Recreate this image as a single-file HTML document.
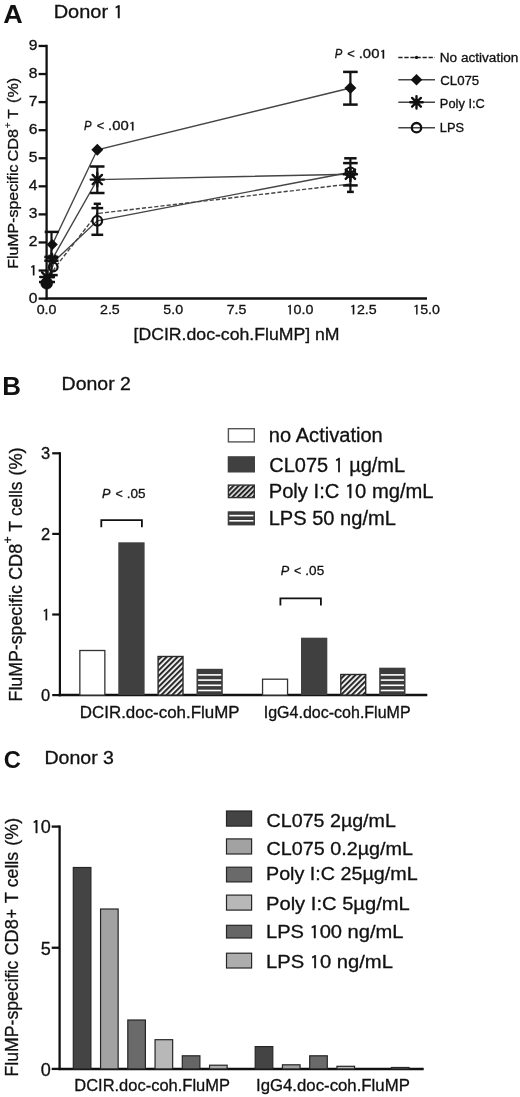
<!DOCTYPE html>
<html><head><meta charset="utf-8"><title>Figure</title>
<style>html,body{margin:0;padding:0;background:#fff;}svg{display:block;}
text{font-family:"Liberation Sans",Arial,sans-serif;stroke:#111;stroke-width:0.3px;}
text[font-weight]{stroke:none;}
.one{font-family:IPAGothic,"Liberation Sans",sans-serif;baseline-shift:-0.055em;}</style></head><body>
<svg width="520" height="1097" viewBox="0 0 520 1097">
<rect width="520" height="1097" fill="#fff"/>

<text x="3.39" y="23.00" font-size="26.00" font-weight="bold" textLength="19.48" lengthAdjust="spacingAndGlyphs" fill="#111">A</text>
<text x="53.70" y="18.00" font-size="18.20" textLength="69.92" lengthAdjust="spacingAndGlyphs" fill="#111">Donor <tspan class="one">1</tspan></text>
<line x1="46.60" y1="44.80" x2="46.60" y2="299.80" stroke="#111" stroke-width="2.3"/>
<line x1="45.50" y1="298.60" x2="427.00" y2="298.60" stroke="#111" stroke-width="2.5"/>
<line x1="38.60" y1="298.60" x2="46.60" y2="298.60" stroke="#111" stroke-width="2.3"/>
<text x="28.71" y="302.60" font-size="14.20" textLength="8.69" lengthAdjust="spacingAndGlyphs" fill="#111">0</text>
<line x1="38.60" y1="270.53" x2="46.60" y2="270.53" stroke="#111" stroke-width="2.3"/>
<text x="29.59" y="274.53" font-size="14.20" textLength="7.81" lengthAdjust="spacingAndGlyphs" fill="#111"><tspan class="one">1</tspan></text>
<line x1="38.60" y1="242.46" x2="46.60" y2="242.46" stroke="#111" stroke-width="2.3"/>
<text x="28.71" y="246.46" font-size="14.20" textLength="8.69" lengthAdjust="spacingAndGlyphs" fill="#111">2</text>
<line x1="38.60" y1="214.39" x2="46.60" y2="214.39" stroke="#111" stroke-width="2.3"/>
<text x="28.71" y="218.39" font-size="14.20" textLength="8.69" lengthAdjust="spacingAndGlyphs" fill="#111">3</text>
<line x1="38.60" y1="186.32" x2="46.60" y2="186.32" stroke="#111" stroke-width="2.3"/>
<text x="28.71" y="190.32" font-size="14.20" textLength="8.69" lengthAdjust="spacingAndGlyphs" fill="#111">4</text>
<line x1="38.60" y1="158.25" x2="46.60" y2="158.25" stroke="#111" stroke-width="2.3"/>
<text x="28.71" y="162.25" font-size="14.20" textLength="8.69" lengthAdjust="spacingAndGlyphs" fill="#111">5</text>
<line x1="38.60" y1="130.18" x2="46.60" y2="130.18" stroke="#111" stroke-width="2.3"/>
<text x="28.71" y="134.18" font-size="14.20" textLength="8.69" lengthAdjust="spacingAndGlyphs" fill="#111">6</text>
<line x1="38.60" y1="102.11" x2="46.60" y2="102.11" stroke="#111" stroke-width="2.3"/>
<text x="28.71" y="106.11" font-size="14.20" textLength="8.69" lengthAdjust="spacingAndGlyphs" fill="#111">7</text>
<line x1="38.60" y1="74.04" x2="46.60" y2="74.04" stroke="#111" stroke-width="2.3"/>
<text x="28.71" y="78.04" font-size="14.20" textLength="8.69" lengthAdjust="spacingAndGlyphs" fill="#111">8</text>
<line x1="38.60" y1="45.97" x2="46.60" y2="45.97" stroke="#111" stroke-width="2.3"/>
<text x="28.71" y="49.97" font-size="14.20" textLength="8.69" lengthAdjust="spacingAndGlyphs" fill="#111">9</text>
<text x="36.71" y="313.80" font-size="13.30" textLength="19.78" lengthAdjust="spacingAndGlyphs" fill="#111">0.0</text>
<text x="100.03" y="313.80" font-size="13.30" textLength="19.78" lengthAdjust="spacingAndGlyphs" fill="#111">2.5</text>
<text x="163.36" y="313.80" font-size="13.30" textLength="19.78" lengthAdjust="spacingAndGlyphs" fill="#111">5.0</text>
<text x="226.68" y="313.80" font-size="13.30" textLength="19.78" lengthAdjust="spacingAndGlyphs" fill="#111">7.5</text>
<text x="286.45" y="313.80" font-size="13.30" textLength="26.90" lengthAdjust="spacingAndGlyphs" fill="#111"><tspan class="one">1</tspan>0.0</text>
<text x="349.78" y="313.80" font-size="13.30" textLength="26.90" lengthAdjust="spacingAndGlyphs" fill="#111"><tspan class="one">1</tspan>2.5</text>
<text x="413.10" y="313.80" font-size="13.30" textLength="26.90" lengthAdjust="spacingAndGlyphs" fill="#111"><tspan class="one">1</tspan>5.0</text>
<text x="133.56" y="339.60" font-size="16.30" textLength="206.04" lengthAdjust="spacingAndGlyphs" fill="#111">[DCIR.doc-coh.FluMP] nM</text>
<text transform="rotate(-90)" x="-268.77" y="17.60" font-size="15.50" textLength="104.30" lengthAdjust="spacingAndGlyphs" fill="#111">FluMP-specific</text>
<text transform="rotate(-90)" x="-161.51" y="17.60" font-size="15.50" textLength="32.58" lengthAdjust="spacingAndGlyphs" fill="#111">CD8</text>
<text transform="rotate(-90)" x="-118.71" y="17.60" font-size="15.50" textLength="9.54" lengthAdjust="spacingAndGlyphs" fill="#111">T</text>
<text transform="rotate(-90)" x="-102.97" y="17.60" font-size="15.50" textLength="25.23" lengthAdjust="spacingAndGlyphs" fill="#111">(%)</text>
<text transform="rotate(-90)" x="-127.97" y="11.13" font-size="9.18" textLength="5.48" lengthAdjust="spacingAndGlyphs" fill="#111">+</text>
<path d="M46.70 281.00L52.20 244.60L97.30 149.80L350.40 88.00" stroke="#454545" stroke-width="1.4" fill="none"/>
<path d="M46.70 277.00L52.60 258.50L97.30 179.60L350.40 174.30" stroke="#454545" stroke-width="1.4" fill="none"/>
<path d="M46.70 283.00L54.50 261.00L97.30 220.80L350.40 172.30" stroke="#454545" stroke-width="1.4" fill="none"/>
<path d="M46.70 282.00L55.50 267.00L97.30 213.50L350.40 184.00" stroke="#454545" stroke-width="1.4" fill="none" stroke-dasharray="4.2,2.0"/>
<line x1="350.40" y1="71.90" x2="350.40" y2="104.60" stroke="#111" stroke-width="2.2"/>
<line x1="343.10" y1="71.90" x2="357.70" y2="71.90" stroke="#111" stroke-width="2.5"/>
<line x1="343.10" y1="104.60" x2="357.70" y2="104.60" stroke="#111" stroke-width="2.5"/>
<path d="M350.40 82.00L356.40 88.00L350.40 94.00L344.40 88.00Z" fill="#111"/>
<line x1="350.40" y1="158.30" x2="350.40" y2="191.90" stroke="#111" stroke-width="2.2"/>
<line x1="344.20" y1="158.30" x2="356.60" y2="158.30" stroke="#111" stroke-width="2.5"/>
<line x1="343.10" y1="163.10" x2="357.70" y2="163.10" stroke="#111" stroke-width="2.5"/>
<line x1="343.10" y1="185.40" x2="357.70" y2="185.40" stroke="#111" stroke-width="2.5"/>
<line x1="347.00" y1="191.90" x2="353.80" y2="191.90" stroke="#111" stroke-width="2.5"/>
<path d="M343.80 174.30L357.00 174.30M345.73 169.63L355.07 178.97M350.40 167.70L350.40 180.90M355.07 169.63L345.73 178.97" stroke="#111" stroke-width="2.4" stroke-linecap="round" fill="none"/>
<circle cx="350.40" cy="172.30" r="4.80" stroke="#111" stroke-width="2.2" fill="none"/>
<path d="M97.30 143.80L103.30 149.80L97.30 155.80L91.30 149.80Z" fill="#111"/>
<line x1="97.30" y1="166.50" x2="97.30" y2="193.00" stroke="#111" stroke-width="2.2"/>
<line x1="90.10" y1="166.50" x2="104.50" y2="166.50" stroke="#111" stroke-width="2.5"/>
<line x1="90.10" y1="193.00" x2="104.50" y2="193.00" stroke="#111" stroke-width="2.5"/>
<path d="M90.70 179.60L103.90 179.60M92.63 174.93L101.97 184.27M97.30 173.00L97.30 186.20M101.97 174.93L92.63 184.27" stroke="#111" stroke-width="2.4" stroke-linecap="round" fill="none"/>
<line x1="97.30" y1="203.80" x2="97.30" y2="234.80" stroke="#111" stroke-width="2.2"/>
<line x1="93.70" y1="203.80" x2="100.90" y2="203.80" stroke="#111" stroke-width="2.5"/>
<line x1="91.40" y1="208.10" x2="103.20" y2="208.10" stroke="#111" stroke-width="2.5"/>
<line x1="91.40" y1="234.80" x2="103.20" y2="234.80" stroke="#111" stroke-width="2.5"/>
<circle cx="97.30" cy="220.80" r="4.80" stroke="#111" stroke-width="2.2" fill="none"/>
<circle cx="97.3" cy="213.5" r="1.3" fill="#111"/>
<line x1="51.50" y1="231.90" x2="51.50" y2="276.00" stroke="#111" stroke-width="2.2"/>
<line x1="44.70" y1="231.90" x2="58.70" y2="231.90" stroke="#111" stroke-width="2.5"/>
<path d="M52.20 239.00L57.80 244.60L52.20 250.20L46.60 244.60Z" fill="#111"/>
<line x1="44.30" y1="256.90" x2="58.50" y2="256.90" stroke="#111" stroke-width="2.5"/>
<line x1="44.30" y1="260.70" x2="58.50" y2="260.70" stroke="#111" stroke-width="2.5"/>
<line x1="45.30" y1="275.10" x2="57.70" y2="275.10" stroke="#111" stroke-width="2.5"/>
<path d="M47.80 258.60L57.00 258.60M49.15 255.35L55.65 261.85M52.40 254.00L52.40 263.20M55.65 255.35L49.15 261.85" stroke="#111" stroke-width="1.8" stroke-linecap="round" fill="none"/>
<circle cx="53.30" cy="267.00" r="4.30" stroke="#111" stroke-width="2.2" fill="none"/>
<line x1="47.00" y1="277.10" x2="55.00" y2="277.10" stroke="#111" stroke-width="2.5"/>
<line x1="39.00" y1="282.00" x2="55.00" y2="282.00" stroke="#111" stroke-width="2.5"/>
<path d="M40.10 277.00L53.30 277.00M42.03 272.33L51.37 281.67M46.70 270.40L46.70 283.60M51.37 272.33L42.03 281.67" stroke="#111" stroke-width="2.3" stroke-linecap="round" fill="none"/>
<circle cx="46.70" cy="283.20" r="6.00" stroke="#111" stroke-width="0.5" fill="#111"/>
<text x="84.06" y="129.60" font-size="12.00" font-style="italic" textLength="7.52" lengthAdjust="spacingAndGlyphs" fill="#111">P</text>
<text x="96.66" y="129.60" font-size="12.00" textLength="7.51" lengthAdjust="spacingAndGlyphs" fill="#111">&lt;</text>
<text x="108.06" y="129.60" font-size="12.00" textLength="28.06" lengthAdjust="spacingAndGlyphs" fill="#111">.00<tspan class="one">1</tspan></text>
<text x="334.76" y="57.80" font-size="12.00" font-style="italic" textLength="7.52" lengthAdjust="spacingAndGlyphs" fill="#111">P</text>
<text x="347.36" y="57.80" font-size="12.00" textLength="7.51" lengthAdjust="spacingAndGlyphs" fill="#111">&lt;</text>
<text x="358.76" y="57.80" font-size="12.00" textLength="28.06" lengthAdjust="spacingAndGlyphs" fill="#111">.00<tspan class="one">1</tspan></text>
<path d="M398.30 57.40L435.00 57.40" stroke="#222" stroke-width="1.5" fill="none" stroke-dasharray="4.3,1.75"/>
<circle cx="416.5" cy="57.4" r="1.6" fill="#111"/>
<path d="M398.30 79.70L435.00 79.70" stroke="#454545" stroke-width="1.4" fill="none"/>
<path d="M416.50 73.90L422.30 79.70L416.50 85.50L410.70 79.70Z" fill="#111"/>
<path d="M398.30 102.30L435.00 102.30" stroke="#454545" stroke-width="1.4" fill="none"/>
<path d="M410.30 102.30L422.70 102.30M412.12 97.92L420.88 106.68M416.50 96.10L416.50 108.50M420.88 97.92L412.12 106.68" stroke="#111" stroke-width="2.4" stroke-linecap="round" fill="none"/>
<path d="M398.30 127.70L435.00 127.70" stroke="#454545" stroke-width="1.4" fill="none"/>
<circle cx="416.50" cy="127.70" r="4.70" stroke="#111" stroke-width="2.3" fill="none"/>
<text x="439.81" y="62.00" font-size="12.50" textLength="78.51" lengthAdjust="spacingAndGlyphs" fill="#111">No activation</text>
<text x="440.24" y="84.60" font-size="12.50" textLength="38.98" lengthAdjust="spacingAndGlyphs" fill="#111">CL075</text>
<text x="439.87" y="107.50" font-size="12.50" textLength="44.95" lengthAdjust="spacingAndGlyphs" fill="#111">Poly I:C</text>
<text x="439.88" y="132.20" font-size="12.50" textLength="24.16" lengthAdjust="spacingAndGlyphs" fill="#111">LPS</text>
<text x="2.19" y="394.60" font-size="25.00" font-weight="bold" textLength="18.71" lengthAdjust="spacingAndGlyphs" fill="#111">B</text>
<text x="61.64" y="390.40" font-size="17.80" textLength="69.29" lengthAdjust="spacingAndGlyphs" fill="#111">Donor 2</text>
<line x1="59.90" y1="452.20" x2="59.90" y2="696.30" stroke="#111" stroke-width="2.2"/>
<line x1="58.60" y1="695.10" x2="427.30" y2="695.10" stroke="#111" stroke-width="2.5"/>
<line x1="52.20" y1="695.10" x2="59.90" y2="695.10" stroke="#111" stroke-width="2.2"/>
<text x="41.13" y="700.70" font-size="16.00" textLength="9.17" lengthAdjust="spacingAndGlyphs" fill="#111">0</text>
<line x1="52.20" y1="614.50" x2="59.90" y2="614.50" stroke="#111" stroke-width="2.2"/>
<text x="42.06" y="620.10" font-size="16.00" textLength="8.24" lengthAdjust="spacingAndGlyphs" fill="#111"><tspan class="one">1</tspan></text>
<line x1="52.20" y1="533.90" x2="59.90" y2="533.90" stroke="#111" stroke-width="2.2"/>
<text x="41.13" y="539.50" font-size="16.00" textLength="9.17" lengthAdjust="spacingAndGlyphs" fill="#111">2</text>
<line x1="52.20" y1="453.30" x2="59.90" y2="453.30" stroke="#111" stroke-width="2.2"/>
<text x="41.13" y="458.90" font-size="16.00" textLength="9.17" lengthAdjust="spacingAndGlyphs" fill="#111">3</text>
<text transform="rotate(-90)" x="-701.42" y="21.90" font-size="18.20" textLength="116.19" lengthAdjust="spacingAndGlyphs" fill="#111">FluMP-specific</text>
<text transform="rotate(-90)" x="-580.11" y="21.90" font-size="18.20" textLength="36.45" lengthAdjust="spacingAndGlyphs" fill="#111">CD8</text>
<text transform="rotate(-90)" x="-531.75" y="21.90" font-size="18.20" textLength="10.83" lengthAdjust="spacingAndGlyphs" fill="#111">T</text>
<text transform="rotate(-90)" x="-516.09" y="21.90" font-size="18.20" textLength="34.59" lengthAdjust="spacingAndGlyphs" fill="#111">cells</text>
<text transform="rotate(-90)" x="-475.70" y="21.90" font-size="18.20" textLength="28.39" lengthAdjust="spacingAndGlyphs" fill="#111">(%)</text>
<text transform="rotate(-90)" x="-543.61" y="11.98" font-size="12.04" textLength="7.18" lengthAdjust="spacingAndGlyphs" fill="#111">+</text>
<defs>
<pattern id="diag" patternUnits="userSpaceOnUse" width="3.85" height="3.85" patternTransform="rotate(45)">
<rect width="3.85" height="3.85" fill="#fff"/><rect width="2.1" height="3.85" fill="#2a2a2a"/></pattern>
<pattern id="diagL" patternUnits="userSpaceOnUse" width="3.6" height="3.6" patternTransform="rotate(45)">
<rect width="3.6" height="3.6" fill="#fff"/><rect width="2.2" height="3.6" fill="#262626"/></pattern>
</defs>
<rect x="79.85" y="650.50" width="25.00" height="44.60" fill="#fff" stroke="#333" stroke-width="1.3"/>
<rect x="118.30" y="542.30" width="26.30" height="152.80" fill="#404040"/>
<rect x="158.10" y="656.50" width="24.90" height="38.60" fill="url(#diag)" stroke="#2a2a2a" stroke-width="1.4"/>
<rect x="196.50" y="668.80" width="26.30" height="26.30" fill="#3c3c3c"/>
<rect x="198.10" y="689.70" width="23.10" height="1.60" fill="#fff"/>
<rect x="198.10" y="684.50" width="23.10" height="1.60" fill="#fff"/>
<rect x="198.10" y="679.30" width="23.10" height="1.60" fill="#fff"/>
<rect x="198.10" y="674.10" width="23.10" height="1.60" fill="#fff"/>
<rect x="262.55" y="679.20" width="25.00" height="15.90" fill="#fff" stroke="#333" stroke-width="1.3"/>
<rect x="301.00" y="637.70" width="26.30" height="57.40" fill="#404040"/>
<rect x="340.80" y="674.50" width="24.90" height="20.60" fill="url(#diag)" stroke="#2a2a2a" stroke-width="1.4"/>
<rect x="379.20" y="667.70" width="26.30" height="27.40" fill="#3c3c3c"/>
<rect x="380.80" y="689.70" width="23.10" height="1.60" fill="#fff"/>
<rect x="380.80" y="684.50" width="23.10" height="1.60" fill="#fff"/>
<rect x="380.80" y="679.30" width="23.10" height="1.60" fill="#fff"/>
<rect x="380.80" y="674.10" width="23.10" height="1.60" fill="#fff"/>
<path d="M101.30 527.30L101.30 520.10L141.90 520.10L141.90 527.30" stroke="#111" stroke-width="1.8" fill="none"/>
<path d="M280.40 605.50L280.40 598.30L320.90 598.30L320.90 605.50" stroke="#111" stroke-width="1.8" fill="none"/>
<text x="102.12" y="497.90" font-size="12.90" font-style="italic" textLength="8.47" lengthAdjust="spacingAndGlyphs" fill="#111">P</text>
<text x="115.38" y="497.90" font-size="12.90" textLength="7.27" lengthAdjust="spacingAndGlyphs" fill="#111">&lt;</text>
<text x="126.69" y="497.90" font-size="12.90" textLength="18.76" lengthAdjust="spacingAndGlyphs" fill="#111">.05</text>
<text x="280.82" y="575.20" font-size="12.90" font-style="italic" textLength="8.47" lengthAdjust="spacingAndGlyphs" fill="#111">P</text>
<text x="294.08" y="575.20" font-size="12.90" textLength="7.27" lengthAdjust="spacingAndGlyphs" fill="#111">&lt;</text>
<text x="305.39" y="575.20" font-size="12.90" textLength="18.76" lengthAdjust="spacingAndGlyphs" fill="#111">.05</text>
<text x="79.85" y="717.70" font-size="15.60" textLength="159.71" lengthAdjust="spacingAndGlyphs" fill="#111">DCIR.doc-coh.FluMP</text>
<text x="263.76" y="717.70" font-size="15.60" textLength="146.85" lengthAdjust="spacingAndGlyphs" fill="#111">IgG4.doc-coh.FluMP</text>
<rect x="228.40" y="428.70" width="25.90" height="13.20" fill="#fff" stroke="#555" stroke-width="1.4"/>
<rect x="227.70" y="456.20" width="27.30" height="16.30" fill="#404040"/>
<rect x="228.40" y="485.10" width="25.90" height="12.50" fill="url(#diagL)" stroke="#333" stroke-width="1.4"/>
<rect x="227.70" y="511.30" width="27.30" height="14.10" fill="#3c3c3c"/>
<rect x="229.30" y="520.00" width="24.10" height="1.60" fill="#fff"/>
<rect x="229.30" y="514.80" width="24.10" height="1.60" fill="#fff"/>
<text x="268.89" y="442.10" font-size="19.30" textLength="113.92" lengthAdjust="spacingAndGlyphs" fill="#111">no Activation</text>
<text x="269.30" y="472.00" font-size="19.30" textLength="135.73" lengthAdjust="spacingAndGlyphs" fill="#111">CL075 <tspan class="one">1</tspan> µg/mL</text>
<text x="268.69" y="497.70" font-size="19.30" textLength="164.90" lengthAdjust="spacingAndGlyphs" fill="#111">Poly I:C <tspan class="one">1</tspan>0 mg/mL</text>
<text x="268.69" y="524.70" font-size="19.30" textLength="127.16" lengthAdjust="spacingAndGlyphs" fill="#111">LPS 50 ng/mL</text>
<text x="3.85" y="767.60" font-size="23.50" font-weight="bold" textLength="17.11" lengthAdjust="spacingAndGlyphs" fill="#111">C</text>
<text x="44.44" y="763.80" font-size="17.60" textLength="69.49" lengthAdjust="spacingAndGlyphs" fill="#111">Donor 3</text>
<line x1="59.60" y1="825.40" x2="59.60" y2="1070.10" stroke="#111" stroke-width="2.3"/>
<line x1="58.50" y1="1068.90" x2="423.70" y2="1068.90" stroke="#111" stroke-width="2.5"/>
<line x1="51.70" y1="1068.90" x2="59.60" y2="1068.90" stroke="#111" stroke-width="2.3"/>
<text x="40.66" y="1075.70" font-size="18.60" textLength="10.04" lengthAdjust="spacingAndGlyphs" fill="#111">0</text>
<line x1="51.70" y1="947.75" x2="59.60" y2="947.75" stroke="#111" stroke-width="2.3"/>
<text x="40.66" y="954.55" font-size="18.60" textLength="10.04" lengthAdjust="spacingAndGlyphs" fill="#111">5</text>
<line x1="51.70" y1="826.60" x2="59.60" y2="826.60" stroke="#111" stroke-width="2.3"/>
<text x="31.64" y="833.40" font-size="18.60" textLength="19.06" lengthAdjust="spacingAndGlyphs" fill="#111"><tspan class="one">1</tspan>0</text>
<text transform="rotate(-90)" x="-1076.41" y="18.20" font-size="18.20" textLength="115.68" lengthAdjust="spacingAndGlyphs" fill="#111">FluMP-specific</text>
<text transform="rotate(-90)" x="-955.51" y="18.20" font-size="18.20" textLength="36.24" lengthAdjust="spacingAndGlyphs" fill="#111">CD8</text>
<text transform="rotate(-90)" x="-918.62" y="18.20" font-size="18.20" textLength="9.61" lengthAdjust="spacingAndGlyphs" fill="#111">+</text>
<text transform="rotate(-90)" x="-903.17" y="18.20" font-size="18.20" textLength="11.25" lengthAdjust="spacingAndGlyphs" fill="#111">T</text>
<text transform="rotate(-90)" x="-887.31" y="18.20" font-size="18.20" textLength="35.43" lengthAdjust="spacingAndGlyphs" fill="#111">cells</text>
<text transform="rotate(-90)" x="-845.67" y="18.20" font-size="18.20" textLength="27.73" lengthAdjust="spacingAndGlyphs" fill="#111">(%)</text>
<rect x="73.30" y="867.50" width="17.60" height="201.40" fill="#444" stroke="#262626" stroke-width="1.2"/>
<rect x="100.55" y="909.00" width="17.60" height="159.90" fill="#a2a2a2" stroke="#262626" stroke-width="1.2"/>
<rect x="127.80" y="1020.00" width="17.60" height="48.90" fill="#6a6a6a" stroke="#262626" stroke-width="1.2"/>
<rect x="155.05" y="1039.70" width="17.60" height="29.20" fill="#b8b8b8" stroke="#262626" stroke-width="1.2"/>
<rect x="182.30" y="1055.80" width="17.60" height="13.10" fill="#666" stroke="#262626" stroke-width="1.2"/>
<rect x="209.55" y="1065.20" width="17.60" height="3.70" fill="#adadad" stroke="#262626" stroke-width="1.2"/>
<rect x="255.20" y="1046.60" width="17.60" height="22.30" fill="#444" stroke="#262626" stroke-width="1.2"/>
<rect x="282.45" y="1064.80" width="17.60" height="4.10" fill="#a2a2a2" stroke="#262626" stroke-width="1.2"/>
<rect x="309.70" y="1055.80" width="17.60" height="13.10" fill="#6a6a6a" stroke="#262626" stroke-width="1.2"/>
<rect x="336.95" y="1066.30" width="17.60" height="2.60" fill="#b8b8b8" stroke="#262626" stroke-width="1.2"/>
<rect x="391.45" y="1067.50" width="17.60" height="1.40" fill="#adadad" stroke="#262626" stroke-width="1.2"/>
<text x="74.28" y="1090.80" font-size="16.30" textLength="155.66" lengthAdjust="spacingAndGlyphs" fill="#111">DCIR.doc-coh.FluMP</text>
<text x="255.99" y="1091.00" font-size="16.30" textLength="153.86" lengthAdjust="spacingAndGlyphs" fill="#111">IgG4.doc-coh.FluMP</text>
<rect x="226.50" y="811.00" width="25.10" height="15.10" fill="#444" stroke="#262626" stroke-width="1.2"/>
<rect x="226.50" y="838.90" width="25.10" height="15.10" fill="#a2a2a2" stroke="#262626" stroke-width="1.2"/>
<rect x="226.50" y="867.20" width="25.10" height="14.70" fill="#6a6a6a" stroke="#262626" stroke-width="1.2"/>
<rect x="226.50" y="895.10" width="25.10" height="15.00" fill="#b8b8b8" stroke="#262626" stroke-width="1.2"/>
<rect x="226.50" y="925.30" width="25.10" height="12.70" fill="#666" stroke="#262626" stroke-width="1.2"/>
<rect x="226.50" y="953.20" width="25.10" height="14.80" fill="#adadad" stroke="#262626" stroke-width="1.2"/>
<text x="266.62" y="827.20" font-size="18.20" textLength="129.27" lengthAdjust="spacingAndGlyphs" fill="#111">CL075 2µg/mL</text>
<text x="266.61" y="854.80" font-size="18.20" textLength="146.26" lengthAdjust="spacingAndGlyphs" fill="#111">CL075 0.2µg/mL</text>
<text x="266.02" y="880.40" font-size="18.20" textLength="151.58" lengthAdjust="spacingAndGlyphs" fill="#111">Poly I:C 25µg/mL</text>
<text x="265.99" y="909.60" font-size="18.20" textLength="143.81" lengthAdjust="spacingAndGlyphs" fill="#111">Poly I:C 5µg/mL</text>
<text x="265.99" y="937.90" font-size="18.20" textLength="137.56" lengthAdjust="spacingAndGlyphs" fill="#111">LPS <tspan class="one">1</tspan>00 ng/mL</text>
<text x="265.98" y="968.10" font-size="18.20" textLength="126.95" lengthAdjust="spacingAndGlyphs" fill="#111">LPS <tspan class="one">1</tspan>0 ng/mL</text>
</svg>
</body></html>
